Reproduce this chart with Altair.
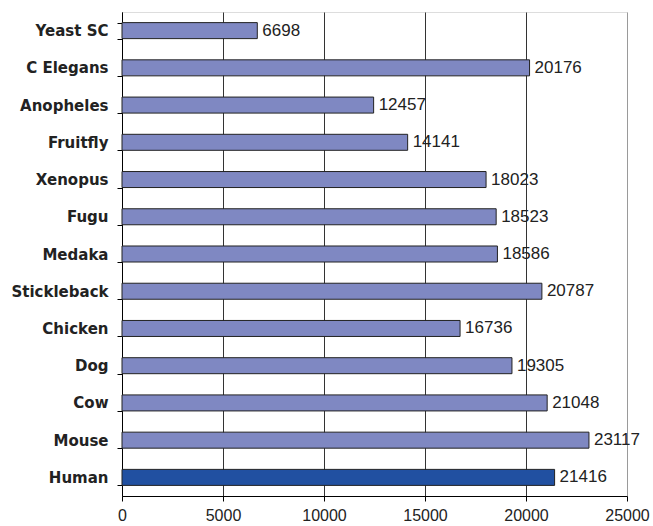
import altair as alt
import pandas as pd

species = ["Yeast SC", "C Elegans", "Anopheles", "Fruitfly", "Xenopus", "Fugu",
           "Medaka", "Stickleback", "Chicken", "Dog", "Cow", "Mouse", "Human"]
gene_counts = [6698, 20176, 12457, 14141, 18023, 18523,
               18586, 20787, 16736, 19305, 21048, 23117, 21416]
highlight = ["other"] * 12 + ["human"]

df = pd.DataFrame({"species": species, "genes": gene_counts, "group": highlight})

y_enc = alt.Y("species:N", sort=species, title=None,
              scale=alt.Scale(paddingInner=0.57, paddingOuter=0.285),
              axis=alt.Axis(labelFont="DejaVu Sans", labelFontWeight="bold",
                            labelFontSize=15, labelColor="#222",
                            domainColor="#000", tickColor="#000", tickSize=5,
                            tickBand="extent", labelPadding=9,
                            minExtent=117, maxExtent=117, labelLimit=200))

x_enc = alt.X("genes:Q", title=None,
              scale=alt.Scale(domain=[0, 25000], nice=False),
              axis=alt.Axis(values=[0, 5000, 10000, 15000, 20000, 25000],
                            format="d", labelFont="Liberation Sans",
                            labelFontSize=16, labelColor="#222",
                            domainColor="#000", tickColor="#000", tickSize=5,
                            labelPadding=6, grid=True,
                            gridColor=alt.condition("datum.value == 25000",
                                                    alt.value("#9a9a9a"),
                                                    alt.value("#333")),
                            labelFlush=False, labelOverlap=False))

bars = alt.Chart(df).mark_bar(stroke="#222", strokeWidth=1).encode(
    x=x_enc,
    y=y_enc,
    color=alt.Color("group:N", legend=None,
                    scale=alt.Scale(domain=["other", "human"],
                                    range=["#7F88C2", "#2150A1"])),
)

labels = alt.Chart(df).mark_text(align="left", baseline="middle", dx=5,
                                 font="Liberation Sans", fontSize=17,
                                 color="#222").encode(
    x="genes:Q",
    y=alt.Y("species:N", sort=species),
    text=alt.Text("genes:Q", format="d"),
)

chart = (bars + labels).properties(
    width=653, height=526,
    autosize=alt.AutoSizeParams(type="fit", contains="padding"),
    padding={"left": 5, "top": 5, "right": 3, "bottom": 3},
).configure_view(stroke=None).configure(background="white")

chart.save("out.html", embed_options={"renderer": "svg", "actions": False})
